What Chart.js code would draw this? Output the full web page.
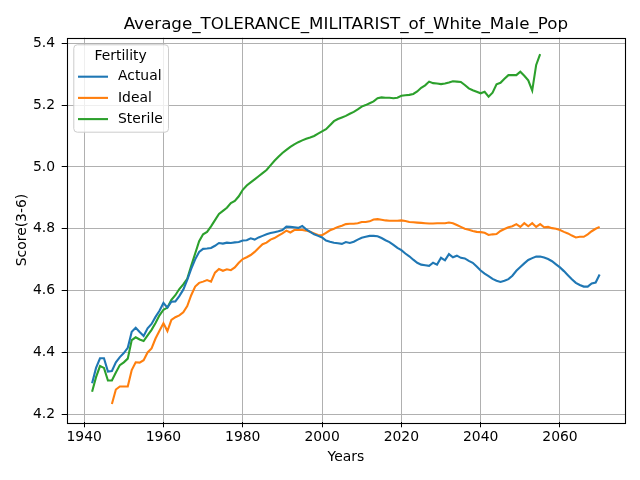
<!DOCTYPE html>
<html>
<head>
<meta charset="utf-8">
<script src="https://cdn.jsdelivr.net/npm/chart.js@4.4.1/dist/chart.umd.min.js"></script>
<style>
html, body { margin: 0; padding: 0; background: #fff; }
</style>
</head>
<body>
<canvas id="chart" width="640" height="480"></canvas>
<script>
// first year of each series, one value per year after that
const actualStart = 1942;
const idealStart = 1947;
const sterileStart = 1942;

const actual = [
    4.300, 4.350, 4.381, 4.381, 4.338, 4.340, 4.368, 4.385, 4.398, 4.415,
    4.467, 4.480, 4.466, 4.453, 4.478, 4.492, 4.515, 4.535, 4.560, 4.545,
    4.564, 4.565, 4.582, 4.603, 4.635, 4.670, 4.701, 4.725, 4.735, 4.736,
    4.738, 4.745, 4.754, 4.752, 4.755, 4.754, 4.756, 4.757, 4.762, 4.763,
    4.769, 4.765, 4.772, 4.777, 4.782, 4.786, 4.789, 4.792, 4.796, 4.807,
    4.806, 4.805, 4.803, 4.809, 4.798, 4.790, 4.782, 4.777, 4.772, 4.762,
    4.758, 4.755, 4.753, 4.751, 4.757, 4.754, 4.758, 4.765, 4.771, 4.774,
    4.777, 4.777, 4.776, 4.770, 4.763, 4.757, 4.748, 4.738, 4.731, 4.720,
    4.711, 4.700, 4.690, 4.684, 4.682, 4.680, 4.690, 4.684, 4.706, 4.698,
    4.718, 4.708, 4.713, 4.706, 4.704, 4.696, 4.690, 4.678, 4.665, 4.655,
    4.647, 4.638, 4.632, 4.628, 4.632, 4.637, 4.648, 4.664, 4.676, 4.688,
    4.699, 4.705, 4.710, 4.710, 4.707, 4.702, 4.695, 4.685, 4.675, 4.663,
    4.650, 4.637, 4.625, 4.618, 4.613, 4.613, 4.623, 4.626, 4.652
];

const ideal = [
    4.233, 4.280, 4.290, 4.290, 4.290, 4.343, 4.368, 4.367, 4.375, 4.400,
    4.413, 4.445, 4.470, 4.494, 4.469, 4.505, 4.514, 4.520, 4.530, 4.550,
    4.585, 4.613, 4.625, 4.629, 4.634, 4.629, 4.658, 4.670, 4.664, 4.669,
    4.666, 4.675, 4.690, 4.702, 4.708, 4.715, 4.725, 4.738, 4.750, 4.755,
    4.765, 4.770, 4.778, 4.785, 4.794, 4.788, 4.796, 4.797, 4.796, 4.794,
    4.790, 4.785, 4.780, 4.779, 4.787, 4.795, 4.800, 4.806, 4.810, 4.815,
    4.816, 4.816, 4.818, 4.822, 4.822, 4.824, 4.830, 4.831, 4.829, 4.827,
    4.826, 4.826, 4.826, 4.827, 4.825, 4.822, 4.821, 4.820, 4.819, 4.818,
    4.817, 4.817, 4.818, 4.818, 4.818, 4.820, 4.818, 4.812, 4.806, 4.800,
    4.797, 4.793, 4.790, 4.789, 4.787, 4.780, 4.782, 4.783, 4.793, 4.799,
    4.805, 4.808, 4.815, 4.806, 4.818, 4.808, 4.818, 4.806, 4.815, 4.805,
    4.806, 4.802, 4.800, 4.796, 4.790, 4.785, 4.778, 4.772, 4.774, 4.774,
    4.782, 4.792, 4.800, 4.806
];

const sterile = [
    4.273, 4.320, 4.356, 4.350, 4.309, 4.309, 4.335, 4.359, 4.368, 4.380,
    4.440, 4.449, 4.442, 4.437, 4.455, 4.473, 4.495, 4.520, 4.538, 4.545,
    4.570, 4.585, 4.605, 4.620, 4.638, 4.680, 4.720, 4.760, 4.782, 4.790,
    4.808, 4.828, 4.848, 4.858, 4.868, 4.883, 4.890, 4.905, 4.926, 4.940,
    4.950, 4.960, 4.970, 4.980, 4.990, 5.005, 5.020, 5.033, 5.045, 5.055,
    5.065, 5.073, 5.080, 5.086, 5.091, 5.095, 5.100, 5.108, 5.115, 5.122,
    5.135, 5.148, 5.155, 5.160, 5.165, 5.172, 5.178, 5.186, 5.195, 5.200,
    5.206, 5.212, 5.222, 5.225, 5.224, 5.224, 5.222, 5.224, 5.230, 5.232,
    5.233, 5.236, 5.244, 5.256, 5.264, 5.276, 5.271, 5.270, 5.268, 5.270,
    5.273, 5.277, 5.276, 5.275, 5.265, 5.254, 5.248, 5.243, 5.238, 5.243,
    5.227, 5.240, 5.267, 5.272, 5.285, 5.297, 5.297, 5.297, 5.308, 5.295,
    5.280, 5.247, 5.330, 5.365
];

const xTicks = [1940, 1960, 1980, 2000, 2020, 2040, 2060];
const yTicks = [4.2, 4.4, 4.6, 4.8, 5.0, 5.2, 5.4];

const blue = '#1f77b4';
const orange = '#ff7f0e';
const green = '#2ca02c';
const font = { family: '"DejaVu Sans", sans-serif', size: 13.9 };

function toPoints(start, values) {
    return values.map((v, i) => ({ x: start + i, y: v }));
}

function series(label, start, values, color) {
    return {
        label: label,
        data: toPoints(start, values),
        borderColor: color,
        backgroundColor: color,
        borderWidth: 2.1,
        pointRadius: 0,
        tension: 0,
        fill: false,
    };
}

// title, frame and boxed legend drawn the matplotlib way
const decorations = {
    id: 'decorations',
    afterDatasetsDraw(chart) {
        const { ctx, chartArea: a } = chart;
        ctx.save();

        // legend
        const bx = a.left + 6.6;
        const by = a.top + 6.6;
        const bw = 94.7;
        const bh = 87.4;
        ctx.beginPath();
        ctx.roundRect(bx + 0.5, by + 0.5, bw, bh, 3.5);
        ctx.fillStyle = 'rgba(255,255,255,0.8)';
        ctx.fill();
        ctx.strokeStyle = '#cccccc';
        ctx.lineWidth = 1;
        ctx.stroke();

        ctx.font = `${font.size}px ${font.family}`;
        ctx.fillStyle = '#000';
        ctx.textBaseline = 'middle';
        ctx.textAlign = 'center';
        ctx.fillText('Fertility', bx + bw / 2, by + 12);

        ctx.textAlign = 'left';
        chart.data.datasets.forEach((ds, i) => {
            const y = by + 32.4 + i * 21.2;
            ctx.beginPath();
            ctx.moveTo(bx + 4.7, y);
            ctx.lineTo(bx + 34.7, y);
            ctx.strokeStyle = ds.borderColor;
            ctx.lineWidth = 2.1;
            ctx.stroke();
            ctx.fillText(ds.label, bx + 44.7, y);
        });

        // frame
        ctx.strokeStyle = '#000';
        ctx.lineWidth = 1.1;
        ctx.strokeRect(Math.round(a.left) + 0.5, Math.round(a.top) + 0.5,
            Math.round(a.right - a.left), Math.round(a.bottom - a.top));

        // title
        ctx.font = `16.7px ${font.family}`;
        ctx.textAlign = 'center';
        ctx.textBaseline = 'alphabetic';
        ctx.fillText('Average_TOLERANCE_MILITARIST_of_White_Male_Pop',
            (a.left + a.right) / 2, 28.5);
        ctx.restore();
    },
};

new Chart(document.getElementById('chart'), {
    type: 'line',
    data: {
        datasets: [
            series('Actual', actualStart, actual, blue),
            series('Ideal', idealStart, ideal, orange),
            series('Sterile', sterileStart, sterile, green),
        ],
    },
    options: {
        responsive: false,
        animation: false,
        devicePixelRatio: 1,
        layout: { padding: { top: 37.7, right: 15, left: 0, bottom: 0 } },
        plugins: {
            legend: { display: false },
            tooltip: { enabled: false },
            title: { display: false },
        },
        scales: {
            x: {
                type: 'linear',
                min: 1935.6,
                max: 2076.4,
                afterBuildTicks: (s) => { s.ticks = xTicks.map((v) => ({ value: v })); },
                afterFit: (s) => { s.height = 57.7; },
                border: { display: false },
                grid: { color: '#b0b0b0', lineWidth: 1, tickColor: '#000', tickLength: 5 },
                ticks: {
                    font: font,
                    color: '#000',
                    padding: 2,
                    maxRotation: 0,
                    autoSkip: false,
                    callback: (v) => String(v),
                },
                title: {
                    display: true,
                    text: 'Years',
                    font: font,
                    color: '#000',
                    padding: { top: 0, bottom: 14.7 },
                },
            },
            y: {
                min: 4.174,
                max: 5.418,
                afterBuildTicks: (s) => { s.ticks = yTicks.map((v) => ({ value: v })); },
                afterFit: (s) => { s.width = 66.7; },
                border: { display: false },
                grid: { color: '#b0b0b0', lineWidth: 1, tickColor: '#000', tickLength: 5 },
                ticks: {
                    font: font,
                    color: '#000',
                    padding: 6.7,
                    autoSkip: false,
                    callback: (v) => v.toFixed(1),
                },
                title: {
                    display: true,
                    text: 'Score(3-6)',
                    font: font,
                    color: '#000',
                    padding: { top: 13.7, bottom: 0 },
                },
            },
        },
    },
    plugins: [decorations],
});
</script>
</body>
</html>
